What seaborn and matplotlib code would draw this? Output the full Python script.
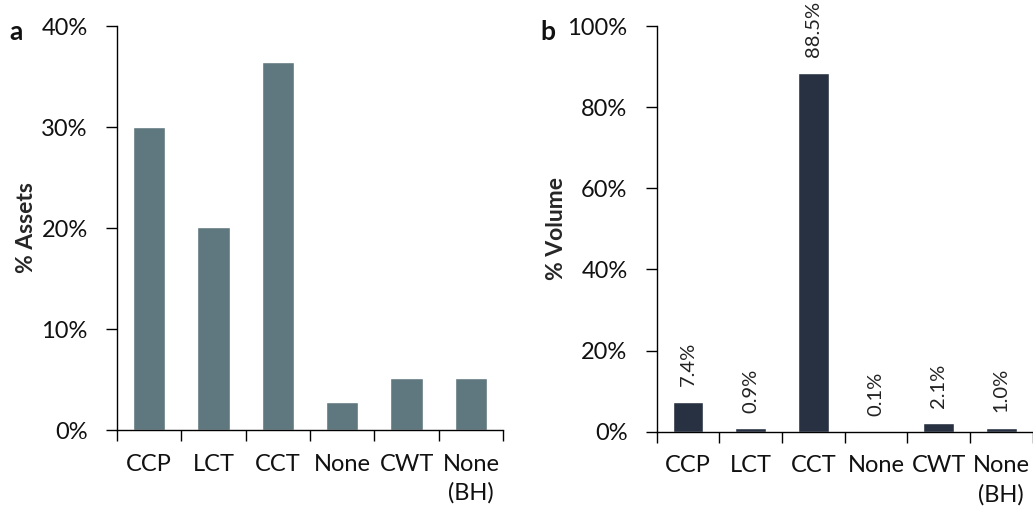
import matplotlib
matplotlib.use("Agg")
import matplotlib.pyplot as plt
from matplotlib.ticker import FuncFormatter, FixedLocator
import seaborn as sns
import pandas as pd

categories = ["CCP", "LCT", "CCT", "None", "CWT", "None\n(BH)"]
assets_pct = [30.0, 20.1, 36.4, 2.8, 5.1, 5.1]
volume_pct = [7.4, 0.9, 88.5, 0.1, 2.1, 1.0]
volume_labels = ["7.4%", "0.9%", "88.5%", "0.1%", "2.1%", "1.0%"]

sns.set_theme(style="ticks")
plt.rcParams["font.family"] = ["Lato", "DejaVu Sans"]

fig = plt.figure(figsize=(10.33, 5.11), dpi=100)
ax_a = fig.add_axes([0.1133, 0.1585, 0.3737, 0.7906])
ax_b = fig.add_axes([0.6357, 0.1550, 0.3640, 0.7941])

df_a = pd.DataFrame({"cat": categories, "val": assets_pct})
df_b = pd.DataFrame({"cat": categories, "val": volume_pct})

sns.barplot(data=df_a, x="cat", y="val", color="#5F777E", saturation=1,
            width=0.5, ax=ax_a)
sns.barplot(data=df_b, x="cat", y="val", color="#283142", saturation=1,
            width=0.49, ax=ax_b)

pct = FuncFormatter(lambda v, _: f"{v:.0f}%")


def style_axis(ax, ymax, step, ylabel, labelpad):
    ax.set_xlim(-0.5, len(categories) - 0.5)
    ax.set_ylim(0, ymax)
    ax.yaxis.set_major_locator(FixedLocator(list(range(0, ymax + 1, step))))
    ax.yaxis.set_major_formatter(pct)
    # category boundary ticks, labels sit at centres
    ax.xaxis.set_major_locator(FixedLocator([i - 0.5 for i in range(len(categories) + 1)]))
    ax.xaxis.set_major_formatter(FuncFormatter(lambda v, _: ""))
    ax.xaxis.set_minor_locator(FixedLocator(list(range(len(categories)))))
    ax.set_xticklabels(categories, minor=True)
    ax.tick_params(axis="x", which="major", length=8, width=1, color="black", direction="out")
    ax.tick_params(axis="x", which="minor", length=0, pad=17, labelsize=17, labelcolor="#111111")
    ax.tick_params(axis="y", which="major", length=8, width=1, color="black",
                   direction="out", labelsize=17, labelcolor="#111111", pad=13)
    for s in ("top", "right"):
        ax.spines[s].set_visible(False)
    for s in ("left", "bottom"):
        ax.spines[s].set_color("black")
        ax.spines[s].set_linewidth(1)
    ax.set_xlabel("")
    ax.set_ylabel(ylabel, fontsize=16.5, fontweight="bold", labelpad=labelpad)
    for lbl in ax.get_xticklabels(minor=True):
        lbl.set_multialignment("center")
        lbl.set_linespacing(1.45)
    return ax


style_axis(ax_a, 40, 10, "% Assets", 3)
style_axis(ax_b, 100, 20, "% Volume", 0)

fig.text(0.009, 0.922, "a", fontsize=19, fontweight="bold", color="#111111")
fig.text(0.523, 0.922, "b", fontsize=19, fontweight="bold", color="#111111")

for i, (v, t) in enumerate(zip(volume_pct, volume_labels)):
    ax_b.annotate(t, (i, v), xytext=(0, 11), textcoords="offset points",
                  rotation=90, ha="center", va="bottom", fontsize=14.5,
                  color="#222222")

fig.savefig("out.png", dpi=100)
